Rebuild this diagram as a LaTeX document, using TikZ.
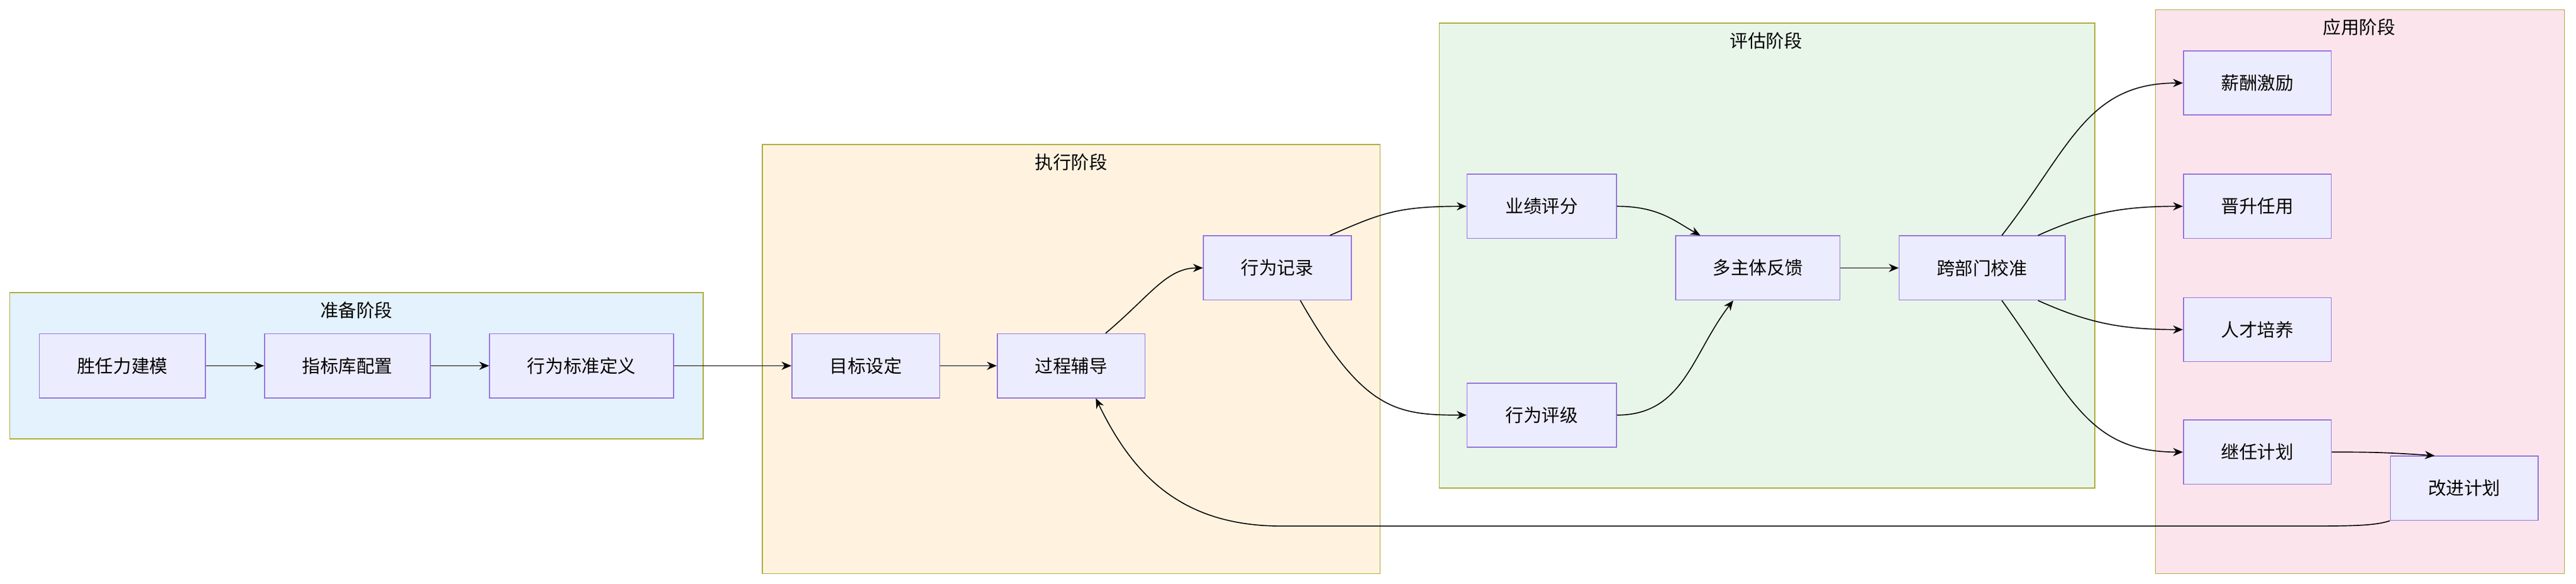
\documentclass[tikz,border=0pt]{standalone}
\usepackage{fontspec}
\setmainfont{Noto Sans CJK SC}
\usetikzlibrary{arrows.meta}
\definecolor{cb}{HTML}{E3F2FD}
\definecolor{co}{HTML}{FFF3E0}
\definecolor{cg}{HTML}{E8F5E9}
\definecolor{cp}{HTML}{FCE4EC}
\definecolor{nf}{HTML}{ECECFF}
\definecolor{nd}{HTML}{9370DB}
\definecolor{cd}{HTML}{AAAA33}
\begin{document}
\begin{tikzpicture}[x=1pt,y=-1pt,
  box/.style={draw=nd,fill=nf,line width=0.6pt,minimum height=39pt,inner sep=0pt,font=\fontsize{11}{13}\selectfont},
  clu/.style={draw=cd,line width=0.6pt},
  ttl/.style={font=\fontsize{11}{13}\selectfont,anchor=north},
  arr/.style={-{Stealth[length=6pt,width=5pt]},line width=0.6pt}]
\useasboundingbox (0,0) rectangle (1568,355);
\fill[white] (0,0) rectangle (1568,355);
\draw[clu,fill=cb] (6,178) rectangle (428,267);
\node[ttl] at (217,180) {准备阶段};
\draw[clu,fill=co] (464,88) rectangle (840,349);
\node[ttl] at (652,90) {执行阶段};
\draw[clu,fill=cg] (876,14) rectangle (1275,297);
\node[ttl] at (1075,16) {评估阶段};
\draw[clu,fill=cp] (1312,6) rectangle (1561,349);
\node[ttl] at (1436,8) {应用阶段};
\node[box,minimum width=101pt] (a) at (74.5,222.5) {胜任力建模};
\node[box,minimum width=101pt] (b) at (211.5,222.5) {指标库配置};
\node[box,minimum width=112pt] (c) at (354,222.5) {行为标准定义};
\node[box,minimum width=90pt] (d) at (527,222.5) {目标设定};
\node[box,minimum width=90pt] (e) at (652,222.5) {过程辅导};
\node[box,minimum width=90pt] (f) at (777.5,163) {行为记录};
\node[box,minimum width=91pt] (g) at (938.5,125.5) {业绩评分};
\node[box,minimum width=91pt] (h) at (938.5,252.5) {行为评级};
\node[box,minimum width=100pt] (i) at (1070,163) {多主体反馈};
\node[box,minimum width=101pt] (j) at (1206.5,163) {跨部门校准};
\node[box,minimum width=90pt] (k) at (1374,50.5) {薪酬激励};
\node[box,minimum width=90pt] (l) at (1374,125.5) {晋升任用};
\node[box,minimum width=90pt] (m) at (1374,200.5) {人才培养};
\node[box,minimum width=90pt] (n) at (1374,275) {继任计划};
\node[box,minimum width=90pt] (o) at (1500,297) {改进计划};
\draw[arr] (a) -- (b);
\draw[arr] (b) -- (c);
\draw[arr] (c) -- (d);
\draw[arr] (d) -- (e);
\draw[arr] ([xshift=21pt]e.north) .. controls (700,180) and (710,163) .. (f.west);
\draw[arr] ([xshift=32pt]f.north) .. controls (840,130) and (850,125.5) .. (g.west);
\draw[arr] ([xshift=14pt]f.south) .. controls (830,250) and (850,252.5) .. (h.west);
\draw[arr] (g.east) .. controls (1010,125.5) and (1020,135) .. ([xshift=-35pt]i.north);
\draw[arr] (h.east) .. controls (1025,252.5) and (1030,215) .. ([xshift=-15pt]i.south);
\draw[arr] (i) -- (j);
\draw[arr] ([xshift=12pt]j.north) .. controls (1260,90) and (1270,50.5) .. (k.west);
\draw[arr] ([xshift=34pt]j.north) .. controls (1270,130) and (1290,125.5) .. (l.west);
\draw[arr] ([xshift=34pt]j.south) .. controls (1270,196) and (1290,200.5) .. (m.west);
\draw[arr] ([xshift=12pt]j.south) .. controls (1260,240) and (1270,275) .. (n.west);
\draw[arr] (n.east) .. controls (1440,275) and (1450,275) .. ([xshift=-18pt]o.north);
\draw[arr] (o.south west) .. controls (1445,320) and (1430,320) .. (1400,320) -- (780,320) .. controls (720,320) and (690,290) .. ([xshift=15pt]e.south);
\end{tikzpicture}
\end{document}
